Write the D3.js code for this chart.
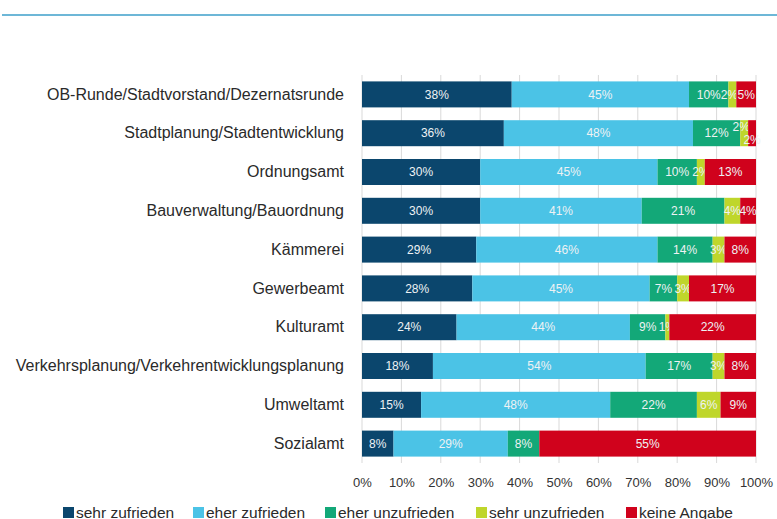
<!DOCTYPE html>
<html>
<head>
<meta charset="utf-8">
<script src="https://cdn.jsdelivr.net/npm/d3@7"></script>
<style>
  body { margin: 0; background: #fff; }
  text { font-family: "Liberation Sans", Arial, sans-serif; }
</style>
</head>
<body>
<div id="canvas"></div>
<script>
// data
var categories = ['OB-Runde/Stadtvorstand/Dezernatsrunde', 'Stadtplanung/Stadtentwicklung',
  'Ordnungsamt', 'Bauverwaltung/Bauordnung', 'Kämmerei', 'Gewerbeamt', 'Kulturamt',
  'Verkehrsplanung/Verkehrentwicklungsplanung', 'Umweltamt', 'Sozialamt'];
var series = ['sehr zufrieden', 'eher zufrieden', 'eher unzufrieden', 'sehr unzufrieden', 'keine Angabe'];
var sehrZufrieden   = [38, 36, 30, 30, 29, 28, 24, 18, 15, 8];
var eherZufrieden   = [45, 48, 45, 41, 46, 45, 44, 54, 48, 29];
var eherUnzufrieden = [10, 12, 10, 21, 14, 7, 9, 17, 22, 8];
var sehrUnzufrieden = [2, 2, 2, 4, 3, 3, 1, 3, 6, 0];
var keineAngabe     = [5, 2, 13, 4, 8, 17, 22, 8, 9, 55];
var xTicks = [0, 10, 20, 30, 40, 50, 60, 70, 80, 90, 100];

var colors = ['#0b466d', '#4bc3e6', '#13a878', '#bfd62b', '#d0021c'];
var font = '"Liberation Sans", Arial, sans-serif';

var W = 777, H = 519;
var svg = d3.select('#canvas').append('svg')
  .attr('width', W).attr('height', H);

// top rule
svg.append('line')
  .attr('x1', 2).attr('x2', W).attr('y1', 15).attr('y2', 15)
  .attr('stroke', '#6db7d7').attr('stroke-width', 2);

var x = d3.scaleLinear().domain([0, 100]).range([362, 756]);
var y = d3.scaleBand().domain(categories).range([75, 463])
  .paddingInner(0.33).paddingOuter(0.165);

// grid
svg.append('g').selectAll('line').data(xTicks).enter()
  .append('line')
  .attr('x1', function(d){ return x(d); })
  .attr('x2', function(d){ return x(d); })
  .attr('y1', 75).attr('y2', 463)
  .attr('stroke', '#d9d9d9').attr('stroke-width', 1);

// x axis labels
var xAxis = d3.axisBottom(x).tickValues(xTicks).tickSize(0)
  .tickFormat(function(d){ return d + '%'; });
var gx = svg.append('g').attr('transform', 'translate(0,475)').call(xAxis);
gx.select('.domain').remove();
gx.selectAll('text').attr('font-size', 13).attr('fill', '#333')
  .style('font-family', font);

// category labels
var yAxis = d3.axisLeft(y).tickSize(0).tickPadding(0);
var gy = svg.append('g').attr('transform', 'translate(344,0)').call(yAxis);
gy.select('.domain').remove();
gy.selectAll('text').attr('font-size', 16).attr('fill', '#2a2a2a')
  .style('font-family', font);

// stacked rows
var values = [sehrZufrieden, eherZufrieden, eherUnzufrieden, sehrUnzufrieden, keineAngabe];
var rows = categories.map(function(c, i){
  var r = {cat: c};
  series.forEach(function(s, j){ r[s] = values[j][i]; });
  return r;
});
var stacked = d3.stack().keys(series)(rows);

var layers = svg.append('g').selectAll('g').data(stacked).enter()
  .append('g')
  .attr('fill', function(d, i){ return colors[i]; });

layers.selectAll('rect').data(function(d){ return d; }).enter()
  .append('rect')
  .attr('x', function(d){ return x(d[0]); })
  .attr('width', function(d){ return x(d[1]) - x(d[0]); })
  .attr('y', function(d){ return y(d.data.cat); })
  .attr('height', y.bandwidth());

// value labels
layers.each(function(layer, li){
  d3.select(this).selectAll('text')
    .data(layer.filter(function(d){ return d[1] - d[0] > 0; }))
    .enter().append('text')
    .attr('x', function(d){
      var xc = (x(d[0]) + x(d[1])) / 2;
      // first rows: the tiny label sits a bit left of its segment
      if (d.data.cat === categories[0] && li === 3) return xc - 3;
      if (d.data.cat === categories[1] && li === 3) return xc - 3;
      return xc;
    })
    .attr('y', function(d){
      var yc = y(d.data.cat) + y.bandwidth() / 2;
      // small labels in the Stadtplanung row are shifted apart
      if (d.data.cat === categories[1] && li === 3) return yc - 6;
      if (d.data.cat === categories[1] && li === 4) return yc + 7;
      return yc;
    })
    .attr('dy', '0.35em')
    .attr('text-anchor', 'middle')
    .attr('font-size', 12)
    .attr('fill', '#eef2f4')
    .text(function(d){ return (d[1] - d[0]) + '%'; });
});

// legend
var legendX = [63, 193, 325, 476, 626];
var legend = svg.append('g').selectAll('g').data(series).enter()
  .append('g')
  .attr('transform', function(d, i){ return 'translate(' + legendX[i] + ',507)'; });
legend.append('rect').attr('width', 11).attr('height', 11)
  .attr('fill', function(d, i){ return colors[i]; });
legend.append('text').attr('x', 13).attr('y', 10.5)
  .attr('font-size', 15.5).attr('fill', '#2a2a2a')
  .text(function(d){ return d; });
</script>
</body>
</html>
